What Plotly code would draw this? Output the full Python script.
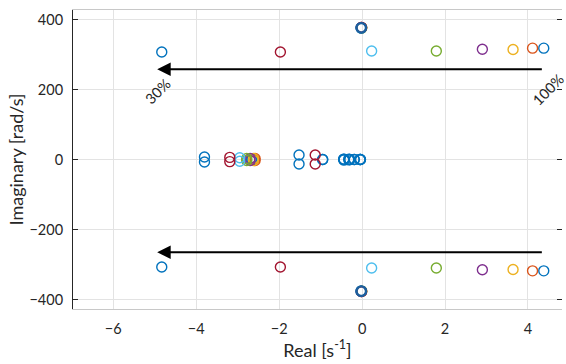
import plotly.graph_objects as go

# Series: damping/percent settings (arrow goes from 100% to 30%)
labels = ["100%", "90%", "80%", "70%", "60%", "50%", "40%", "30%"]
colors = ["#0072BD", "#D95319", "#EDB120", "#7E2F8E", "#77AC30", "#4DBEEE", "#A2142F", "#0072BD"]

# Oscillatory pole pair (moving pole) : real part and |imag| part
osc_re = [4.38, 4.11, 3.64, 2.90, 1.79, 0.23, -1.97, -4.83]
osc_im = [318, 318, 314, 315, 310, 310, 307, 307]

# High-frequency pole pair common to all series
hf_re = [-0.02, -0.02, -0.01, -0.02, -0.01, -0.02, -0.01, -0.02]
hf_im = [376, 377, 376, 377, 376, 376, 377, 376]

# Poles near the real axis (real part, |imag| part)
low_re = [
    [-2.66, -0.95, -0.44, -0.32, -0.19, -0.04],
    [-2.58],
    [-2.62],
    [-2.70],
    [-2.78],
    [-2.95],
    [-3.19, -1.13],
    [-3.80, -1.52, -0.44, -0.30, -0.05],
]
low_im = [
    [2, 0, 1, 1, 0, 0],
    [3],
    [3],
    [3],
    [3],
    [5],
    [6, 13],
    [7, 13, 1, 0, 0],
]

x_ticks = [-6, -4, -2, 0, 2, 4]
y_ticks = [-400, -200, 0, 200, 400]

# Arrow rows and labels
arrow_start = 4.37
arrow_end = -4.94
arrow_im = [258, -265]
pct_labels = [("30%", -4.93, 193), ("100%", 4.49, 199)]

fig = go.Figure()

for lab, col, xr, xi, hr, hi, lr, li in zip(labels, colors, osc_re, osc_im, hf_re, hf_im, low_re, low_im):
    xs = [xr, xr, hr, hr]
    ys = [xi, -xi, hi, -hi]
    for a, b in zip(lr, li):
        xs += [a, a]
        ys += [b, -b]
    fig.add_trace(go.Scatter(
        x=xs, y=ys, mode="markers", name=lab, showlegend=False,
        marker=dict(symbol="circle-open", size=10, color=col, line=dict(width=1.4, color=col)),
    ))

# overlapping common poles appear as a thick dark ring
fig.add_trace(go.Scatter(
    x=hf_re[-1:] * 2, y=[hf_im[-1], -hf_im[-1]], mode="markers", showlegend=False,
    marker=dict(symbol="circle-open", size=9.5, color="#1d5f9e", line=dict(width=2.4, color="#1d5f9e")),
))

for yv in arrow_im:
    fig.add_annotation(
        x=arrow_end, y=yv, ax=arrow_start, ay=yv, xref="x", yref="y", axref="x", ayref="y",
        showarrow=True, arrowhead=2, arrowsize=1.35, arrowwidth=2, arrowcolor="#000000", text="",
    )

for txt, xv, yv in pct_labels:
    fig.add_annotation(
        x=xv, y=yv, xref="x", yref="y", text=txt, showarrow=False, textangle=-45,
        font=dict(family="Lato", size=14.5, color="#262626"),
    )

fig.update_layout(
    width=566, height=364,
    margin=dict(l=73, r=4, t=10, b=55),
    plot_bgcolor="white", paper_bgcolor="white",
    font=dict(family="Lato", color="#262626"),
    xaxis=dict(
        range=[-6.97, 4.82], tickvals=x_ticks, ticks="", showgrid=True, gridcolor="#e3e3e3", gridwidth=1,
        zeroline=False, showline=True, linecolor="#c8c8c8", linewidth=1, mirror=True,
        tickfont=dict(size=14.5, color="#262626"), ticklabelstandoff=7,
        title=dict(text="Real [s<sup>-1</sup>]", font=dict(size=18, color="#262626"), standoff=4),
    ),
    yaxis=dict(
        range=[-427, 427], tickvals=y_ticks, ticks="inside", ticklen=5, tickcolor="#262626",
        showgrid=True, gridcolor="#e3e3e3", gridwidth=1, zeroline=False,
        showline=True, linecolor="#262626", linewidth=1,
        tickfont=dict(size=14.5, color="#262626"), ticklabelstandoff=6,
        title=dict(text="Imaginary [rad/s]", font=dict(size=18, color="#262626"), standoff=1),
    ),
    yaxis2=dict(
        range=[-427, 427], tickvals=y_ticks, ticks="inside", ticklen=5, tickcolor="#262626",
        overlaying="y", side="right", showgrid=False, zeroline=False, showline=False,
        showticklabels=False,
    ),
)
# dummy trace to activate right axis ticks
fig.add_trace(go.Scatter(x=[None], y=[None], yaxis="y2", showlegend=False, hoverinfo="skip"))

fig.write_html("out.html")
